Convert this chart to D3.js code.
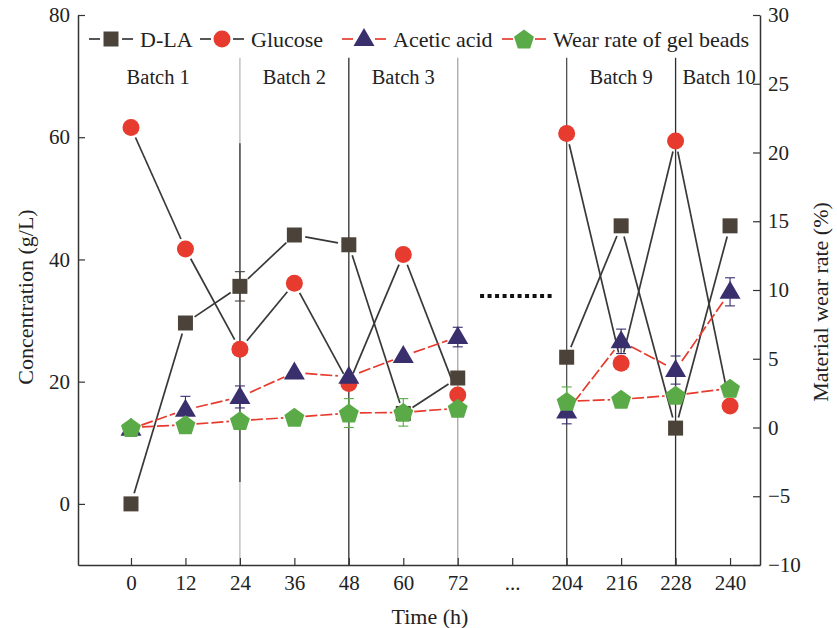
<!DOCTYPE html>
<html>
<head>
<meta charset="utf-8">
<script src="https://cdn.jsdelivr.net/npm/d3@7"></script>
<style>
body { margin: 0; background: #fff; }
</style>
</head>
<body>
<div id="chart"></div>
<script>
// Time axis categories ("..." stands for the skipped batches)
var timeLabels = ["0", "12", "24", "36", "48", "60", "72", "...", "204", "216", "228", "240"];

// Concentrations (g/L), left axis
var dla     = [0, 29.6, 35.6, 44.0, 42.4, 14.8, 20.6, null, 24.0, 45.5, 12.4, 45.5];
var glucose = [61.6, 41.7, 25.3, 36.1, 19.7, 40.8, 17.8, null, 60.6, 23.0, 59.4, 16.0];
var acetic  = [12.3, 15.4, 17.5, 21.5, 20.8, 24.2, 27.3, null, 15.1, 26.6, 21.9, 34.7];
// Wear rate of gel beads (%), right axis
var wear    = [0, 0.2, 0.5, 0.75, 1.05, 1.1, 1.4, null, 1.9, 2.05, 2.35, 2.85];

// Error bars, same units as the series
var dlaErr     = [0, 0, 2.4, 0, 0, 0, 0, null, 0, 0, 0, 0];
var glucoseErr = [0, 0, 0, 0, 0, 0, 0, null, 0, 0, 0, 0];
var aceticErr  = [0, 2.2, 1.8, 0, 0, 0, 1.6, null, 2.0, 2.0, 2.3, 2.3];
var wearErr    = [0, 0.3, 0, 0, 1.05, 1.0, 0, null, 1.05, 0, 0, 0];

var leftTicks  = [0, 20, 40, 60, 80];
var rightTicks = [-10, -5, 0, 5, 10, 15, 20, 25, 30];

// Batch separators (category index) and batch captions
var sepIndex   = [2, 4, 6, 8, 10];
var batchNames = ["Batch 1", "Batch 2", "Batch 3", "Batch 9", "Batch 10"];
var batchAt    = [0.5, 3, 5, 9, 10.8];

// SVG size
var svgWidth = 837;
var svgHeight = 628;
var font = "'Liberation Serif', 'Times New Roman', serif";

var svg = d3.select("#chart").append("svg")
	.attr("width", svgWidth)
	.attr("height", svgHeight)
	.style("font-family", font);

// scales
var x = d3.scaleLinear().domain([-0.973, 11.55]).range([78, 760]);
var yL = d3.scaleLinear().domain([-10, 80]).range([565, 15]);
var yR = d3.scaleLinear().domain([-10, 30]).range([565, 15]);

// batch separator lines
var sepColor = ["#b8b8b8", "#2e2e2e", "#a8a8a8", "#505050", "#2e2e2e"];
svg.append("g").selectAll("line").data(sepIndex).enter().append("line")
	.attr("x1", d => x(d)).attr("x2", d => x(d))
	.attr("y1", yL(73)).attr("y2", yL(-10))
	.attr("stroke", (d, i) => sepColor[i])
	.attr("stroke-width", 1.3);
// darker piece over the Batch 1/2 separator
svg.append("line")
	.attr("x1", x(2)).attr("x2", x(2))
	.attr("y1", yL(59)).attr("y2", yL(3.6))
	.attr("stroke", "#555").attr("stroke-width", 1.6);

// batch captions
svg.append("g").selectAll("text").data(batchNames).enter().append("text")
	.attr("x", (d, i) => x(batchAt[i]))
	.attr("y", 84)
	.attr("text-anchor", "middle")
	.attr("font-size", "20.5px")
	.attr("fill", "#222")
	.text(d => d);

// thick dotted break line
svg.append("line")
	.attr("x1", x(6.41)).attr("x2", x(7.73))
	.attr("y1", yL(34)).attr("y2", yL(34))
	.attr("stroke", "#111").attr("stroke-width", 4)
	.attr("stroke-dasharray", "4,3.5");

// marker shapes
function shapePath(shape) {
	if (shape == "square") return "M-7.5,-7.5h15v15h-15z";
	if (shape == "circle") return d3.symbol(d3.symbolCircle, Math.PI * 8.5 * 8.5)();
	if (shape == "triangle") return "M0,-11L10.5,7L-10.5,7Z";
	var pts = d3.range(5).map(function (k) {
		var a = -Math.PI / 2 + k * 2 * Math.PI / 5;
		return [10.5 * Math.cos(a), 10.5 * Math.sin(a) + 1];
	});
	return "M" + pts.join("L") + "Z";
}

var series = [
	{ name: "D-LA", values: dla, err: dlaErr, y: yL, fill: "#4b4239", line: "#383838", dash: null, shape: "square" },
	{ name: "Glucose", values: glucose, err: glucoseErr, y: yL, fill: "#e63b2e", line: "#383838", dash: null, shape: "circle" },
	{ name: "Acetic acid", values: acetic, err: aceticErr, y: yL, fill: "#3a2f6d", line: "#e63b2e", dash: "12,3", shape: "triangle" },
	{ name: "Wear rate of gel beads", values: wear, err: wearErr, y: yR, fill: "#5aab48", line: "#e63b2e", dash: "12,3", shape: "pentagon" }
];

// connecting lines, with a small gap at each marker
var gap = 11;
series.forEach(function (s) {
	var segs = [];
	for (var i = 0; i < s.values.length - 1; i++) {
		if (s.values[i] == null || s.values[i + 1] == null) continue;
		var x1 = x(i), y1 = s.y(s.values[i]), x2 = x(i + 1), y2 = s.y(s.values[i + 1]);
		var L = Math.hypot(x2 - x1, y2 - y1);
		if (L <= 2 * gap) continue;
		var ux = (x2 - x1) / L, uy = (y2 - y1) / L;
		segs.push([x1 + ux * gap, y1 + uy * gap, x2 - ux * gap, y2 - uy * gap]);
	}
	svg.append("g").selectAll("line").data(segs).enter().append("line")
		.attr("x1", d => d[0]).attr("y1", d => d[1])
		.attr("x2", d => d[2]).attr("y2", d => d[3])
		.attr("stroke", s.line)
		.attr("stroke-width", 1.7)
		.attr("stroke-dasharray", s.dash);
});

// error bars
series.forEach(function (s) {
	var pts = s.values.map((v, i) => ({ i: i, v: v, e: s.err[i] })).filter(d => d.v != null && d.e > 0);
	var g = svg.append("g").attr("stroke", s.fill).attr("stroke-width", 1.1);
	pts.forEach(function (d) {
		g.append("line").attr("x1", x(d.i)).attr("x2", x(d.i))
			.attr("y1", s.y(d.v - d.e)).attr("y2", s.y(d.v + d.e));
		[d.v - d.e, d.v + d.e].forEach(function (v) {
			g.append("line").attr("x1", x(d.i) - 5).attr("x2", x(d.i) + 5)
				.attr("y1", s.y(v)).attr("y2", s.y(v));
		});
	});
});

// markers
series.forEach(function (s) {
	var pts = s.values.map((v, i) => ({ i: i, v: v })).filter(d => d.v != null);
	svg.append("g").selectAll("path").data(pts).enter().append("path")
		.attr("d", shapePath(s.shape))
		.attr("transform", d => `translate(${x(d.i)},${s.y(d.v)})`)
		.attr("fill", s.fill);
});

// axes
function styleAxis(g) {
	g.selectAll("path.domain").attr("stroke", "#333").attr("stroke-width", 1.5);
	g.selectAll(".tick line").attr("stroke", "#333").attr("stroke-width", 1.2);
	g.selectAll(".tick text").attr("fill", "#222").attr("font-size", "21px").attr("font-family", font);
}

svg.append("g")
	.attr("transform", "translate(0,565)")
	.call(d3.axisBottom(x).tickValues(d3.range(timeLabels.length))
		.tickFormat(i => timeLabels[i]).tickSizeInner(-7).tickSizeOuter(0).tickPadding(10))
	.call(styleAxis);

svg.append("g")
	.attr("transform", "translate(78,0)")
	.call(d3.axisLeft(yL).tickValues(leftTicks).tickSizeInner(-7).tickSizeOuter(0).tickPadding(8))
	.call(styleAxis);

svg.append("g")
	.attr("transform", "translate(760,0)")
	.call(d3.axisRight(yR).tickValues(rightTicks).tickSizeInner(-7).tickSizeOuter(0).tickPadding(8))
	.call(styleAxis);

// axis titles
svg.append("text")
	.attr("transform", "translate(25,297) rotate(-90)")
	.attr("text-anchor", "middle").attr("dy", "0.35em")
	.attr("font-size", "22px").attr("fill", "#222")
	.text("Concentration (g/L)");
svg.append("text")
	.attr("transform", "translate(820,302) rotate(-90)")
	.attr("text-anchor", "middle").attr("dy", "0.35em")
	.attr("font-size", "22px").attr("fill", "#222")
	.text("Material wear rate (%)");
svg.append("text")
	.attr("x", 430).attr("y", 624)
	.attr("text-anchor", "middle")
	.attr("font-size", "22px").attr("fill", "#222")
	.text("Time (h)");

// legend
var legendX = [111, 222, 364, 524];
var legend = svg.append("g").selectAll("g").data(series).enter().append("g")
	.attr("transform", (d, i) => `translate(${legendX[i]},39)`);
legend.append("line").attr("x1", -22).attr("x2", -gap)
	.attr("stroke", d => d.line).attr("stroke-width", 1.7);
legend.append("line").attr("x1", gap).attr("x2", 22)
	.attr("stroke", d => d.line).attr("stroke-width", 1.7);
legend.append("path")
	.attr("d", d => shapePath(d.shape))
	.attr("fill", d => d.fill);
legend.append("text")
	.attr("x", 29).attr("dy", "0.35em")
	.attr("font-size", "22px").attr("fill", "#222")
	.text(d => d.name);
</script>
</body>
</html>
